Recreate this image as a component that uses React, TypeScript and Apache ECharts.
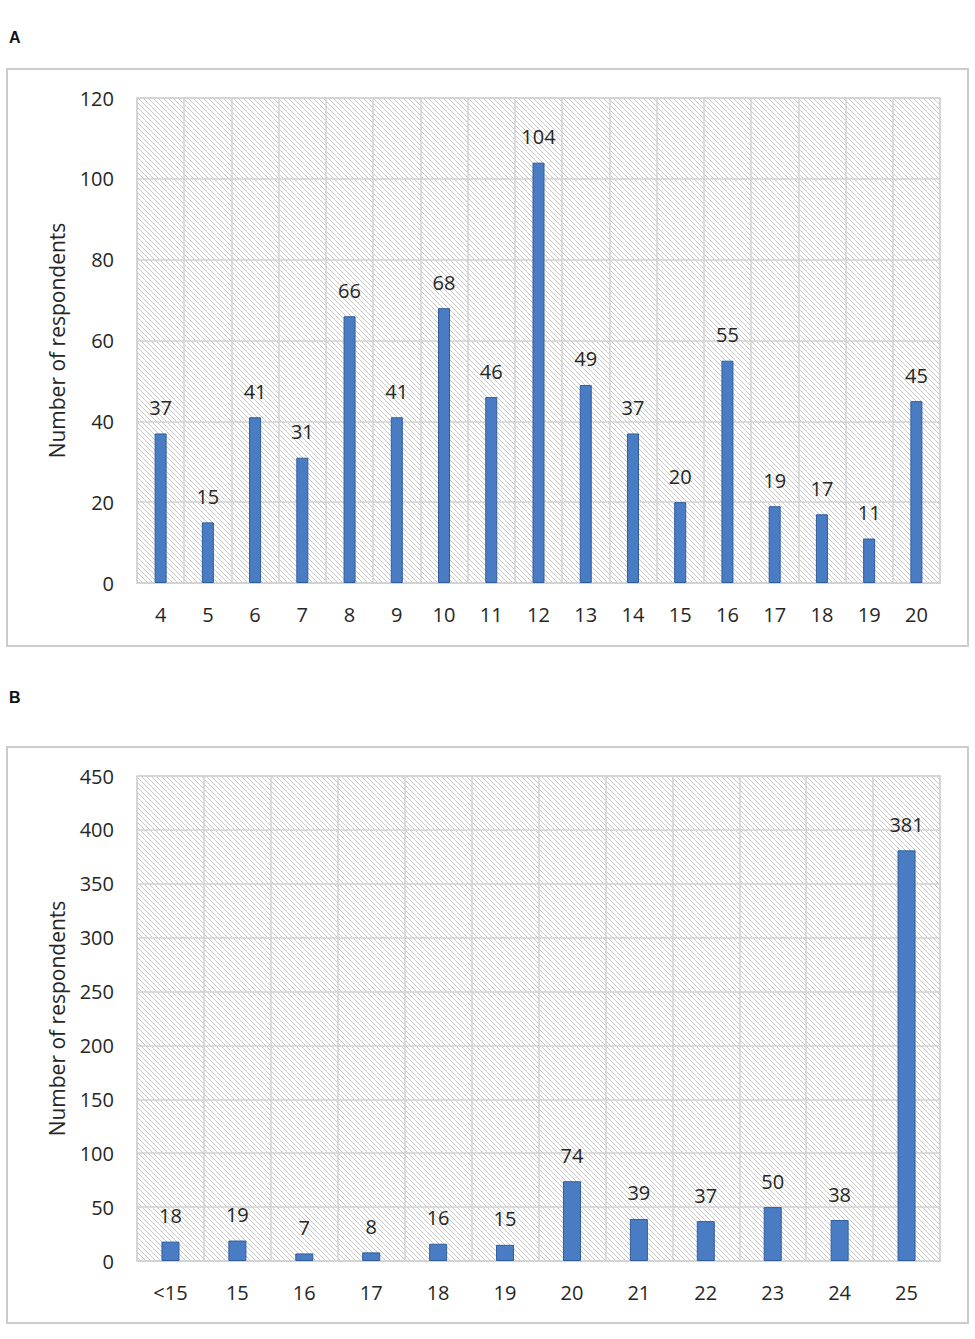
import React, { useEffect, useRef } from "react";
import * as echarts from "echarts";

const catsA = ["4", "5", "6", "7", "8", "9", "10", "11", "12", "13", "14", "15", "16", "17", "18", "19", "20"];
const valsA = [37, 15, 41, 31, 66, 41, 68, 46, 104, 49, 37, 20, 55, 19, 17, 11, 45];
const catsB = ["<15", "15", "16", "17", "18", "19", "20", "21", "22", "23", "24", "25"];
const valsB = [18, 19, 7, 8, 16, 15, 74, 39, 37, 50, 38, 381];
const yTitle = "Number of respondents";

const FONT = "'Open Sans', 'Noto Sans', sans-serif";
const TXT = "#262626";
const GRIDLINE = "#d2d2d2";

const hatchSvg =
  "data:image/svg+xml;utf8," +
  encodeURIComponent(
    '<svg xmlns="http://www.w3.org/2000/svg" width="5" height="5">' +
      '<path d="M0,0 L5,5 M-1,4 L1,6 M4,-1 L6,1" stroke="#c8c8c8" stroke-width="1" fill="none"/>' +
      "</svg>"
  );

export default function App() {
  const ref = useRef<HTMLDivElement>(null);
  useEffect(() => {
    if (!ref.current) return;
    const chart = echarts.init(ref.current, null, { renderer: "svg" });
    const pattern: any = { image: hatchSvg, repeat: "repeat", imageWidth: 5, imageHeight: 5 };
    const gridCommon = {
      left: 137,
      width: 803,
      height: 485,
      show: true,
      borderColor: GRIDLINE,
      borderWidth: 1.5,
      backgroundColor: pattern,
      containLabel: false,
    };
    const xAxisCommon = (idx: number, data: string[]) => ({
      type: "category",
      gridIndex: idx,
      data,
      axisTick: { show: false },
      axisLine: { show: true, lineStyle: { color: GRIDLINE, width: 1.5 } },
      axisLabel: { fontSize: 20, color: TXT, fontFamily: FONT, margin: 21, interval: 0 },
      splitLine: { show: true, interval: 0, lineStyle: { color: GRIDLINE, width: 1.5 } },
    });
    const yAxisCommon = (idx: number, max: number, interval: number) => ({
      type: "value",
      gridIndex: idx,
      min: 0,
      max,
      interval,
      name: yTitle,
      nameLocation: "middle",
      nameGap: 70,
      nameTextStyle: { fontSize: 21, color: TXT, fontFamily: FONT },
      axisLine: { show: false },
      axisTick: { show: false },
      axisLabel: { fontSize: 20, color: TXT, fontFamily: FONT, margin: 23 },
      splitLine: { show: true, lineStyle: { color: GRIDLINE, width: 1.5 } },
    });
    const barCommon = (idx: number, data: number[], barWidth: number) => ({
      type: "bar",
      xAxisIndex: idx,
      yAxisIndex: idx,
      data,
      barWidth,
      itemStyle: { color: "#4a7cc4", borderColor: "#2f5d9c", borderWidth: 1 },
      label: {
        show: true,
        position: "top",
        distance: 16,
        fontSize: 20,
        color: TXT,
        fontFamily: FONT,
      },
    });
    chart.setOption({
      animation: false,
      backgroundColor: "#ffffff",
      grid: [
        { ...gridCommon, top: 98 },
        { ...gridCommon, top: 776 },
      ],
      xAxis: [xAxisCommon(0, catsA), xAxisCommon(1, catsB)],
      yAxis: [yAxisCommon(0, 120, 20), yAxisCommon(1, 450, 50)],
      series: [barCommon(0, valsA, 12), barCommon(1, valsB, 18)],
      graphic: [
        {
          type: "rect",
          shape: { x: 7, y: 69, width: 961, height: 577 },
          style: { fill: "none", stroke: "#cccccc", lineWidth: 2 },
          silent: true,
        },
        {
          type: "rect",
          shape: { x: 7, y: 747, width: 961, height: 576 },
          style: { fill: "none", stroke: "#cccccc", lineWidth: 2 },
          silent: true,
        },
        {
          type: "text",
          left: 9,
          top: 29,
          style: { text: "A", fontSize: 16, fontWeight: "bold", fill: "#111", fontFamily: "'Liberation Sans', Arial, sans-serif" },
        },
        {
          type: "text",
          left: 9,
          top: 689,
          style: { text: "B", fontSize: 16, fontWeight: "bold", fill: "#111", fontFamily: "'Liberation Sans', Arial, sans-serif" },
        },
      ],
    });
    return () => chart.dispose();
  }, []);
  return (
    <div
      ref={ref}
      style={{ position: "absolute", left: 0, top: 0, width: 975, height: 1339 }}
    />
  );
}
